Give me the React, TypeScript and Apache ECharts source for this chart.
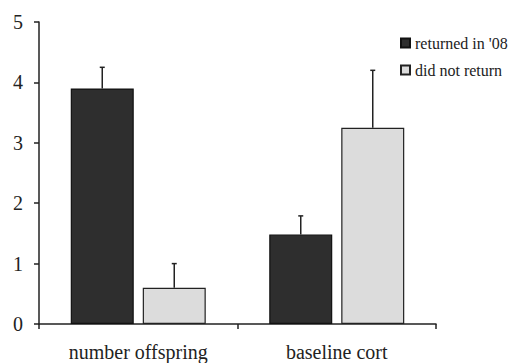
import React, { useEffect, useRef } from "react";
import * as echarts from "echarts";

const categories = ["number offspring", "baseline cort"];
const seriesNames = ["returned in '08", "did not return"];
const returnedValues = [3.9, 1.48];
const returnedErrTop = [4.25, 1.79];
const notReturnedValues = [0.6, 3.25];
const notReturnedErrTop = [1.0, 4.2];
const yTicks = [0, 1, 2, 3, 4, 5];

const BAR_W = 63;
const GAP_PX = 9;
const FONT = "Liberation Serif, Times New Roman, serif";

export default function App() {
  const ref = useRef<HTMLDivElement>(null);
  useEffect(() => {
    if (!ref.current) return;
    const chart = echarts.init(ref.current, undefined, { renderer: "svg" });
    const offset = BAR_W / 2 + GAP_PX / 2;
    const errData: number[][] = [];
    returnedValues.forEach((v, i) => errData.push([i, v, returnedErrTop[i], -offset]));
    notReturnedValues.forEach((v, i) => errData.push([i, v, notReturnedErrTop[i], offset]));
    chart.setOption({
      animation: false,
      backgroundColor: "#ffffff",
      textStyle: { fontFamily: FONT },
      grid: { left: 39, right: 73, top: 22, bottom: 39, containLabel: false },
      legend: {
        orient: "vertical",
        left: 400,
        top: 35,
        padding: 0,
        itemWidth: 9,
        itemHeight: 9,
        itemGap: 11,
        icon: "rect",
        textStyle: { fontFamily: FONT, fontSize: 16, color: "#222" },
        data: seriesNames,
      },
      xAxis: {
        type: "category",
        data: categories,
        boundaryGap: true,
        axisLine: { lineStyle: { color: "#222", width: 1.5 } },
        axisTick: { show: true, length: 5, lineStyle: { color: "#222", width: 1.5 } },
        axisLabel: { fontFamily: FONT, fontSize: 20, color: "#222", margin: 18 },
      },
      yAxis: {
        type: "value",
        min: yTicks[0],
        max: yTicks[yTicks.length - 1],
        interval: 1,
        splitLine: { show: false },
        axisLine: { show: true, lineStyle: { color: "#222", width: 1.5 } },
        axisTick: { show: true, length: 5, lineStyle: { color: "#222", width: 1.5 } },
        axisLabel: { fontFamily: FONT, fontSize: 20, color: "#222", margin: 16 },
      },
      series: [
        {
          name: seriesNames[0],
          type: "bar",
          data: returnedValues,
          barWidth: BAR_W,
          barGap: `${(GAP_PX / BAR_W) * 100}%`,
          itemStyle: { color: "#2e2e2e", borderColor: "#111", borderWidth: 1.2 },
        },
        {
          name: seriesNames[1],
          type: "bar",
          data: notReturnedValues,
          barWidth: BAR_W,
          itemStyle: { color: "#dcdcdc", borderColor: "#222", borderWidth: 1.2 },
        },
        {
          type: "custom",
          data: errData,
          z: 10,
          renderItem: (params: any, api: any) => {
            const cat = api.value(0);
            const base = api.coord([cat, api.value(1)]);
            const top = api.coord([cat, api.value(2)]);
            const x = base[0] + api.value(3);
            const style = { stroke: "#222", lineWidth: 1.5 };
            return {
              type: "group",
              children: [
                { type: "line", shape: { x1: x, y1: base[1], x2: x, y2: top[1] }, style },
                { type: "line", shape: { x1: x - 2.5, y1: top[1], x2: x + 2.5, y2: top[1] }, style },
              ],
            };
          },
        },
      ],
    });
    return () => chart.dispose();
  }, []);
  return <div ref={ref} style={{ width: 509, height: 363, position: "absolute", left: 0, top: 0 }} />;
}
